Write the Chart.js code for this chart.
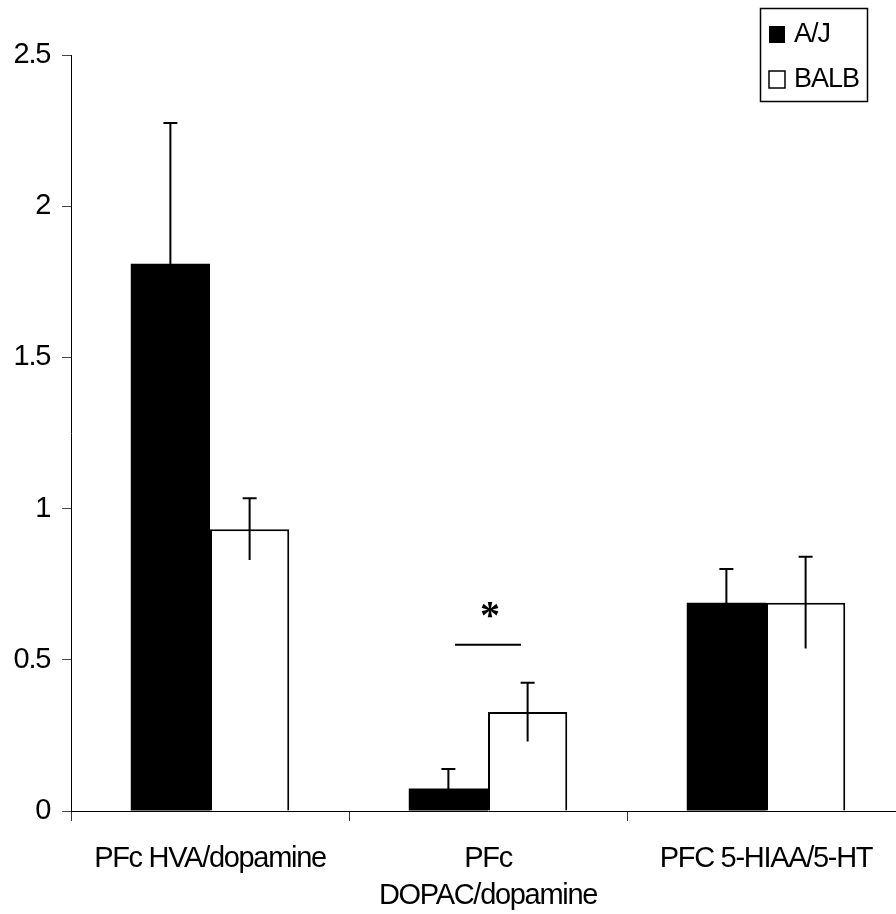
<!DOCTYPE html>
<html>
<head>
<meta charset="utf-8">
<script src="https://cdn.jsdelivr.net/npm/chart.js@4.4.1/dist/chart.umd.min.js"></script>
<style>
  html, body { margin: 0; padding: 0; background: #fff; overflow: hidden; }
  #wrap { width: 896px; height: 914px; overflow: hidden; }
  canvas { display: block; }
</style>
</head>
<body>
<div id="wrap"><canvas id="c" width="905" height="914"></canvas></div>
<script>
// Metabolite/transmitter ratios in prefrontal cortex, mean ± SEM
const categories = [['PFc HVA/dopamine'], ['PFc', 'DOPAC/dopamine'], ['PFC 5-HIAA/5-HT']];
const seriesNames = ['A/J', 'BALB'];
const ajMeans = [1.81, 0.074, 0.689];
const ajErrors = [0.465, 0.065, 0.111];
const balbMeans = [0.932, 0.327, 0.689];
const balbErrors = [0.102, 0.097, 0.152];
const yTicks = [0, 0.5, 1, 1.5, 2, 2.5];
const significance = [{ category: 1, level: 0.55, markLevel: 0.67, mark: '*' }];

const FONT = "'Liberation Sans', Arial, sans-serif";

// Tighter tracking for all axis text
const tracking = {
  id: 'tracking',
  beforeDraw(chart) { chart.ctx.letterSpacing = '-1.3px'; }
};

// Vertical SEM whiskers with a cap on the upper end only
const errorBars = {
  id: 'errorBars',
  afterDatasetsDraw(chart) {
    const ctx = chart.ctx;
    const y = chart.scales.y;
    ctx.save();
    ctx.strokeStyle = '#000';
    ctx.lineWidth = 2;
    chart.data.datasets.forEach((ds, di) => {
      const meta = chart.getDatasetMeta(di);
      meta.data.forEach((bar, i) => {
        const v = ds.data[i], e = ds.errors[i];
        const top = y.getPixelForValue(v + e);
        const bot = y.getPixelForValue(v - e);
        ctx.beginPath();
        ctx.moveTo(bar.x, bot);
        ctx.lineTo(bar.x, top);
        ctx.moveTo(bar.x - 7, top);
        ctx.lineTo(bar.x + 7, top);
        ctx.stroke();
      });
    });
    ctx.restore();
  }
};

// Significance bar and asterisk above a category
const sigMarks = {
  id: 'sigMarks',
  afterDatasetsDraw(chart) {
    const ctx = chart.ctx;
    const x = chart.scales.x, y = chart.scales.y;
    ctx.save();
    ctx.letterSpacing = '0px';
    significance.forEach(s => {
      const cx = x.getPixelForValue(s.category);
      const ly = y.getPixelForValue(s.level);
      ctx.strokeStyle = '#000';
      ctx.lineWidth = 2;
      ctx.beginPath();
      ctx.moveTo(cx - 33, ly);
      ctx.lineTo(cx + 33, ly);
      ctx.stroke();
      ctx.fillStyle = '#000';
      ctx.font = "bold 40px 'Liberation Serif', 'Times New Roman', serif";
      ctx.textAlign = 'center';
      ctx.textBaseline = 'middle';
      ctx.fillText(s.mark, cx + 2, y.getPixelForValue(s.markLevel) + 9);
    });
    ctx.restore();
  }
};

// Boxed legend in the top-right corner
const boxLegend = {
  id: 'boxLegend',
  afterDraw(chart) {
    const ctx = chart.ctx;
    const bx = 760, by = 8, bw = 107, bh = 93;
    ctx.save();
    ctx.letterSpacing = '-1px';
    ctx.fillStyle = '#fff';
    ctx.fillRect(bx, by, bw, bh);
    ctx.strokeStyle = '#000';
    ctx.lineWidth = 1.5;
    ctx.strokeRect(bx + 0.5, by + 0.5, bw, bh);
    ctx.font = '27px ' + FONT;
    ctx.textBaseline = 'middle';
    ctx.textAlign = 'left';
    chart.data.datasets.forEach((ds, i) => {
      const cy = 34 + i * 45;
      ctx.fillStyle = ds.backgroundColor;
      ctx.fillRect(769, cy - 8, 16, 17);
      if (ds.backgroundColor !== '#000') {
        ctx.strokeStyle = '#000';
        ctx.lineWidth = 1.5;
        ctx.strokeRect(769, cy - 8, 16, 17);
      }
      ctx.fillStyle = '#000';
      ctx.fillText(ds.label, 794, cy + 1);
    });
    ctx.restore();
  }
};

new Chart(document.getElementById('c'), {
  type: 'bar',
  data: {
    labels: categories,
    datasets: [
      {
        label: seriesNames[0],
        data: ajMeans,
        errors: ajErrors,
        backgroundColor: '#000',
        borderColor: '#000',
        borderWidth: 0
      },
      {
        label: seriesNames[1],
        data: balbMeans,
        errors: balbErrors,
        backgroundColor: '#fff',
        borderColor: '#000',
        borderWidth: 2,
        borderSkipped: 'bottom'
      }
    ]
  },
  options: {
    responsive: false,
    animation: false,
    devicePixelRatio: 1,
    layout: { padding: { top: 55, left: 0, right: 0, bottom: 0 } },
    categoryPercentage: 0.57,
    barPercentage: 1.0,
    plugins: {
      legend: { display: false },
      tooltip: { enabled: false }
    },
    scales: {
      x: {
        offset: true,
        grid: { offset: true, drawOnChartArea: false, drawTicks: true, tickLength: 10, color: '#333', lineWidth: 1 },
        border: { color: '#000', width: 1 },
        ticks: {
          color: '#000',
          padding: 19,
          font: { family: FONT, size: 29, lineHeight: 1.28 },
          maxRotation: 0,
          autoSkip: false
        },
        afterFit(scale) { scale.height = 103; }
      },
      y: {
        min: 0,
        max: 2.5,
        grid: { drawOnChartArea: false, drawTicks: true, tickLength: 9, color: '#444', lineWidth: 1 },
        border: { color: '#000', width: 1 },
        afterBuildTicks(scale) { scale.ticks = yTicks.map(v => ({ value: v })); },
        ticks: {
          color: '#000',
          padding: 12,
          font: { family: FONT, size: 29 },
          callback: v => String(v)
        },
        afterFit(scale) { scale.width = 71; }
      }
    }
  },
  plugins: [tracking, errorBars, sigMarks, boxLegend]
});
</script>
</body>
</html>
